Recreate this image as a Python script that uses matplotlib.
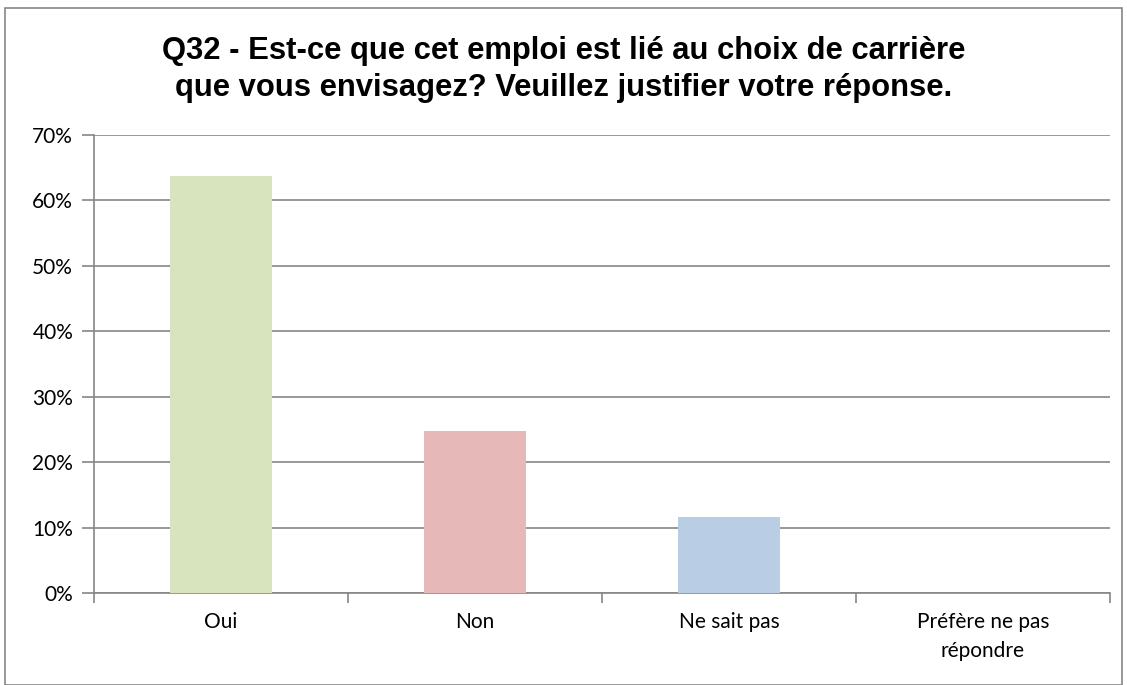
import matplotlib.pyplot as plt
from matplotlib.patches import Rectangle

categories = ['Oui', 'Non', 'Ne sait pas', 'Préfère ne pas\nrépondre']
values = [63.7, 24.7, 11.6, 0.0]
colors = ['#D7E4BD', '#E6B9B8', '#B9CDE5', '#CCC1DA']
yticks = [0, 10, 20, 30, 40, 50, 60, 70]

title = ('Q32 - Est-ce que cet emploi est lié au choix de carrière\n'
         'que vous envisagez? Veuillez justifier votre réponse.')

fig = plt.figure(figsize=(11.27, 6.85), dpi=100)
ax = fig.add_axes([94 / 1127, 92 / 685, 1016 / 1127, 458 / 685])

x = range(len(categories))
ax.bar(x, values, width=0.4, color=colors, zorder=3)

ax.set_xlim(-0.5, len(categories) - 0.5)
ax.set_ylim(0, 70)
ax.set_yticks(yticks)
ax.set_yticklabels([f'{v}%' for v in yticks], family='Lato', fontsize=15)
ax.yaxis.grid(True, color='#868686', linewidth=1.2, zorder=0)

ax.set_xticks(x)
ax.set_xticklabels(categories, family='Lato', fontsize=15, linespacing=1.55)
ax.set_xticks([i - 0.5 for i in range(len(categories) + 1)], minor=True)
ax.tick_params(axis='x', which='major', length=0, pad=14)
ax.tick_params(axis='x', which='minor', length=7, width=1.2, color='#868686')
ax.tick_params(axis='y', length=9, width=1.2, color='#868686', pad=6)

for side in ['top', 'right']:
    ax.spines[side].set_visible(False)
for side in ['left', 'bottom']:
    ax.spines[side].set_color('#868686')
    ax.spines[side].set_linewidth(1.2)

fig.text(0.5, 0.899, title, ha='center', va='center', family='Liberation Sans',
         fontweight='bold', fontsize=22.3, linespacing=1.3)

fig.patches.append(Rectangle((5 / 1127, 0), 1 - 10 / 1127, 1 - 8 / 685,
                             transform=fig.transFigure, fill=False,
                             edgecolor='#868686', linewidth=1.2))

fig.savefig('out.png', dpi=100)
